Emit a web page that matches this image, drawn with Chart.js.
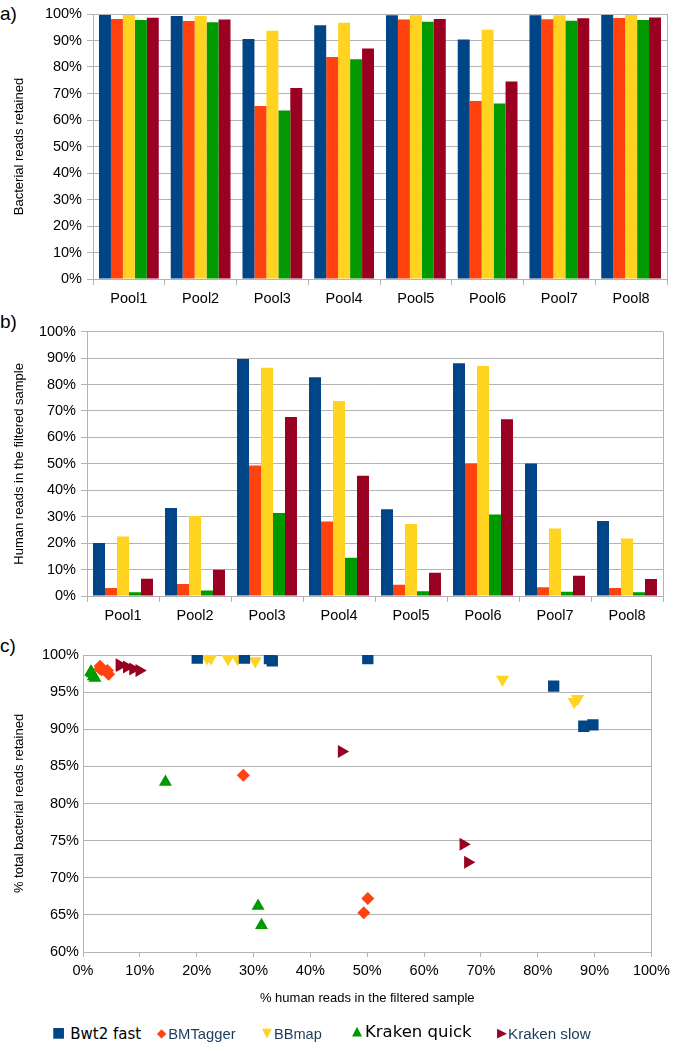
<!DOCTYPE html>
<html>
<head>
<meta charset="utf-8">
<script src="https://cdn.jsdelivr.net/npm/chart.js@4.4.1/dist/chart.umd.min.js"></script>
<style>
  body { margin: 0; background: #fff; width: 675px; height: 1053px; position: relative; overflow: hidden;
         font-family: "Liberation Sans", Arial, sans-serif; }
  canvas { position: absolute; left: 0; }
  .tag { position: absolute; left: 0; font-size: 19px; line-height: 20px; color: #000; }
  .leg { position: absolute; top: 1022px; white-space: nowrap; line-height: 24px; }
  .mk { font-family: "DejaVu Sans", sans-serif; position: relative; top: -2px; }
</style>
</head>
<body>
<div class="tag" style="top:4px">a)</div>
<div class="tag" style="top:312px">b)</div>
<div class="tag" style="top:636px">c)</div>

<canvas id="chartA" width="675" height="312" style="top:0px"></canvas>
<canvas id="chartB" width="675" height="312" style="top:318px"></canvas>
<canvas id="chartC" width="675" height="385" style="top:628px"></canvas>

<!-- legend shared by the three panels -->
<div class="leg" style="left:52px"><span class="mk" style="color:#004586;font-size:14px">■</span><span style="font-family:'DejaVu Sans';font-size:15px;color:#000;margin-left:5px">Bwt2 fast</span></div>
<div class="leg" style="left:157px"><span class="mk" style="color:#ff420e;font-size:12px">◆</span><span style="font-size:14.8px;color:#1c3b5a;margin-left:2px">BMTagger</span></div>
<div class="leg" style="left:262px"><span class="mk" style="color:#ffd320;font-size:13px">▼</span><span style="font-size:14.6px;color:#1c3b5a;margin-left:2px">BBmap</span></div>
<div class="leg" style="left:352px;top:1020px"><span class="mk" style="color:#009900;font-size:13px">▲</span><span style="font-family:'DejaVu Sans';font-size:16.5px;color:#000;margin-left:3px">Kraken quick</span></div>
<div class="leg" style="left:497px"><span class="mk" style="color:#990022;font-size:13px">▶</span><span style="font-size:15.2px;color:#1c3b5a;margin-left:1px">Kraken slow</span></div>

<script>
'use strict';

// Categories and series
const pools = ['Pool1', 'Pool2', 'Pool3', 'Pool4', 'Pool5', 'Pool6', 'Pool7', 'Pool8'];
const methods = ['Bwt2 fast', 'BMTagger', 'BBmap', 'Kraken quick', 'Kraken slow'];
const methodColors = ['#004586', '#ff420e', '#ffd320', '#009900', '#990022'];

// a) % bacterial reads retained, per pool
const bacterialBwt2 = [99.6, 99.2, 90.6, 95.8, 99.5, 90.4, 99.5, 99.6];
const bacterialBMTagger = [98.1, 97.4, 65.3, 83.8, 97.9, 67.2, 98.0, 98.5];
const bacterialBBmap = [99.6, 99.2, 93.7, 96.7, 99.5, 94.1, 99.5, 99.6];
const bacterialKrakenQuick = [97.7, 96.9, 63.6, 82.9, 97.1, 66.2, 97.5, 97.7];
const bacterialKrakenSlow = [98.6, 97.9, 72.1, 87.0, 98.1, 74.5, 98.4, 98.7];

// b) % human reads left in the filtered sample, per pool
const humanBwt2 = [20.1, 33.3, 89.7, 82.8, 32.8, 88.1, 50.1, 28.4];
const humanBMTagger = [3.0, 4.5, 49.4, 28.2, 4.3, 50.1, 3.3, 3.0];
const humanBBmap = [22.5, 30.3, 86.4, 73.8, 27.2, 87.0, 25.5, 21.8];
const humanKrakenQuick = [1.4, 2.1, 31.4, 14.5, 1.8, 30.8, 1.6, 1.4];
const humanKrakenSlow = [6.5, 9.9, 67.7, 45.5, 8.8, 66.9, 7.7, 6.4];

const bacterialSeries = [bacterialBwt2, bacterialBMTagger, bacterialBBmap, bacterialKrakenQuick, bacterialKrakenSlow];
const humanSeries = [humanBwt2, humanBMTagger, humanBBmap, humanKrakenQuick, humanKrakenSlow];

// c) marker shape per method
const pointStyles = ['rect', 'rectRot', 'triangle', 'triangle', 'triangle'];
const pointRotations = [0, 0, 180, 0, 90];
const pointRadii = [8, 6.5, 7.5, 7.5, 7.5];

const GRID = '#b3b3b3';
const TICK_FONT = { family: '"Liberation Sans", Arial, sans-serif', size: 14.5 };
const TITLE_FONT = { family: '"Liberation Sans", Arial, sans-serif', size: 13 };

Chart.defaults.animation = false;
Chart.defaults.color = '#000';

// Right-hand border of the plot area
const frameRight = {
  id: 'frameRight',
  afterDraw(chart) {
    const { ctx, chartArea } = chart;
    ctx.save();
    ctx.strokeStyle = GRID;
    ctx.lineWidth = 1;
    ctx.beginPath();
    ctx.moveTo(Math.round(chartArea.right) + 0.5, chartArea.top);
    ctx.lineTo(Math.round(chartArea.right) + 0.5, chartArea.bottom);
    ctx.stroke();
    ctx.restore();
  },
};

function barChart(canvasId, series, title, pad, axisWidth, axisHeight) {
  const datasets = series.map((values, i) => ({
    label: methods[i],
    data: values,
    backgroundColor: methodColors[i],
    borderWidth: 0,
    categoryPercentage: 0.833,
    barPercentage: 1.0,
  }));

  return new Chart(document.getElementById(canvasId), {
    type: 'bar',
    data: { labels: pools, datasets },
    plugins: [frameRight],
    options: {
      responsive: false,
      layout: { padding: pad },
      plugins: { legend: { display: false }, tooltip: { enabled: false } },
      scales: {
        x: {
          grid: { display: true, drawOnChartArea: false, drawTicks: true, tickLength: 6, color: GRID, offset: true },
          border: { color: GRID },
          ticks: { font: TICK_FONT, color: '#000', padding: 5 },
          afterFit: (s) => { s.height = axisHeight; },
        },
        y: {
          min: 0,
          max: 100,
          ticks: { stepSize: 10, font: TICK_FONT, color: '#000', padding: 5, callback: (v) => `${v}%` },
          grid: { color: GRID, tickLength: 6 },
          border: { color: GRID },
          title: { display: true, text: title, font: TITLE_FONT, color: '#000', padding: { top: 12, bottom: 0 } },
          afterFit: (s) => { s.width = axisWidth; },
        },
      },
    },
  });
}

barChart('chartA', bacterialSeries, 'Bacterial reads retained', { top: 14, right: 8, left: 0, bottom: 0 }, 93, 33);
barChart('chartB', humanSeries, 'Human reads in the filtered sample', { top: 13, right: 12, left: 0, bottom: 0 }, 87, 34);

// c) scatter: human reads (x) against bacterial reads retained (y)
const scatterSets = methods.map((name, i) => ({
  label: name,
  data: humanSeries[i].map((x, j) => ({ x, y: bacterialSeries[i][j] })),
  backgroundColor: methodColors[i],
  borderColor: methodColors[i],
  borderWidth: 0,
  pointStyle: pointStyles[i],
  rotation: pointRotations[i],
  pointRadius: pointRadii[i],
}));

new Chart(document.getElementById('chartC'), {
  type: 'scatter',
  data: { datasets: scatterSets },
  plugins: [frameRight],
  options: {
    responsive: false,
    layout: { padding: { top: 27, right: 18, left: 0, bottom: 0 } },
    plugins: { legend: { display: false }, tooltip: { enabled: false } },
    scales: {
      x: {
        min: 0,
        max: 100,
        grid: { display: true, drawOnChartArea: false, drawTicks: true, tickLength: 5, color: GRID },
        border: { color: GRID },
        ticks: { stepSize: 10, font: TICK_FONT, color: '#000', padding: 5, callback: (v) => `${v}%` },
        title: { display: true, text: '% human reads in the filtered sample', font: TITLE_FONT, color: '#000', padding: { top: 0, bottom: 7 } },
        afterFit: (s) => { s.height = 61; },
      },
      y: {
        min: 60,
        max: 100,
        grid: { color: GRID, drawTicks: false },
        border: { color: GRID },
        ticks: { stepSize: 5, font: TICK_FONT, color: '#000', padding: 4, callback: (v) => `${v}%` },
        title: { display: true, text: '% total bacterial reads retained', font: TITLE_FONT, color: '#000', padding: { top: 12, bottom: 0 } },
        afterFit: (s) => { s.width = 83; },
      },
    },
  },
});
</script>
</body>
</html>
